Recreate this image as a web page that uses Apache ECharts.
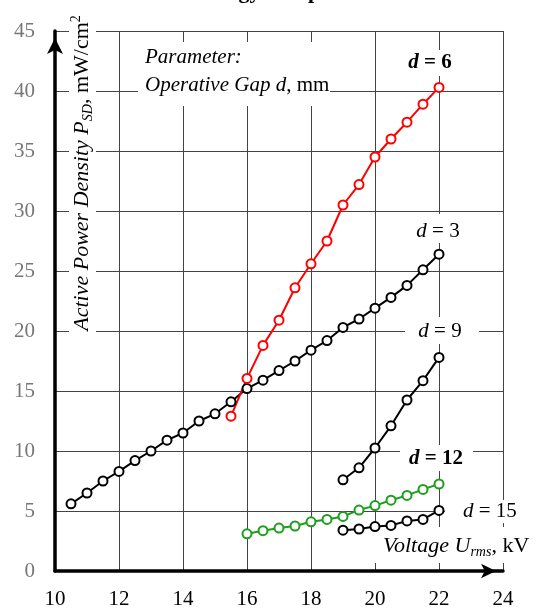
<!DOCTYPE html>
<html><head><meta charset="utf-8">
<script src="https://cdn.jsdelivr.net/npm/echarts@6/dist/echarts.min.js"></script>
<style>html,body{margin:0;padding:0;background:#fff}#c{width:544px;height:614px}</style>
</head><body><div id="c"></div>
<script>
// ---- data ----
const xTickMin = 10, xTickMax = 24, xTickStep = 2;
const yTickMin = 0, yTickMax = 45, yTickStep = 5;

const voltD3 = [10.5,11,11.5,12,12.5,13,13.5,14,14.5,15,15.5,16,16.5,17,17.5,18,18.5,19,19.5,20,20.5,21,21.5,22];
const powD3  = [5.6,6.5,7.5,8.3,9.2,10.0,10.9,11.5,12.5,13.1,14.1,15.2,15.9,16.7,17.5,18.4,19.2,20.3,21.0,21.9,22.8,23.8,25.1,26.4];

const voltD6 = [15.5,16,16.5,17,17.5,18,18.5,19,19.5,20,20.5,21,21.5,22];
const powD6  = [12.9,16.05,18.8,20.9,23.6,25.6,27.5,30.5,32.2,34.5,36.0,37.4,38.9,40.3];

const voltD9 = [19,19.5,20,20.5,21,21.5,22];
const powD9  = [7.6,8.6,10.25,12.1,14.25,15.86,17.8];

const voltD12 = [16,16.5,17,17.5,18,18.5,19,19.5,20,20.5,21,21.5,22];
const powD12  = [3.1,3.36,3.58,3.75,4.1,4.3,4.55,5.08,5.45,5.9,6.3,6.8,7.25];

const voltD15 = [19,19.5,20,20.5,21,21.5,22];
const powD15  = [3.4,3.5,3.7,3.8,4.17,4.3,5.05];

const pairs = (xs, ys) => xs.map((x, i) => [x, ys[i]]);

const SERIF = '"Liberation Serif", "DejaVu Serif", serif';
const chart = echarts.init(document.getElementById('c'), null, {renderer: 'canvas'});

function lineSeries(name, xs, ys, color) {
  return {
    name, type: 'line', z: 2,
    data: pairs(xs, ys),
    symbol: 'emptyCircle', symbolSize: 9,
    itemStyle: {color: color, borderWidth: 2},
    lineStyle: {color: color, width: 2},
    emphasis: {disabled: true},
    animation: false
  };
}

function bg(x, y, w, h) {
  return {type: 'rect', z: 1, silent: true, shape: {x, y, width: w, height: h}, style: {fill: '#fff'}};
}
function txt(x, y, text, rich, align, extra) {
  return Object.assign({type: 'text', z: 3, silent: true, x, y,
    style: {text, rich, align: align || 'center', verticalAlign: 'middle', fontFamily: SERIF}}, extra || {});
}

const base = {fontFamily: SERIF, fontSize: 21, color: '#000'};
const it = Object.assign({}, base, {fontStyle: 'italic'});
const bd = Object.assign({}, base, {fontWeight: 'bold'});
const bi = Object.assign({}, base, {fontWeight: 'bold', fontStyle: 'italic'});

chart.setOption({
  backgroundColor: '#fff',
  animation: false,
  grid: {left: 55, right: 41, top: 31, bottom: 43},
  xAxis: {
    type: 'value', min: xTickMin, max: xTickMax, interval: xTickStep,
    axisLine: {show: true, onZero: false, lineStyle: {color: '#000', width: 3.5},
      symbol: ['none', 'arrow'], symbolSize: [11, 15], symbolOffset: [0, -7]},
    axisTick: {show: false},
    axisLabel: {color: '#000', fontSize: 21, fontFamily: 'Liberation Serif', margin: 18},
    splitLine: {show: true, lineStyle: {color: '#444', width: 1}}
  },
  yAxis: {
    type: 'value', min: yTickMin, max: yTickMax, interval: yTickStep,
    axisLine: {show: true, onZero: false, lineStyle: {color: '#000', width: 3.5},
      symbol: ['none', 'arrow'], symbolSize: [12, 16], symbolOffset: [0, -7]},
    axisTick: {show: false},
    axisLabel: {color: '#777', fontSize: 21, fontFamily: 'Liberation Serif', margin: 20},
    splitLine: {show: true, lineStyle: {color: '#444', width: 1}}
  },
  series: [
    lineSeries('d = 3', voltD3, powD3, '#000'),
    lineSeries('d = 6', voltD6, powD6, '#ff0000'),
    lineSeries('d = 9', voltD9, powD9, '#000'),
    lineSeries('d = 12', voltD12, powD12, '#1e9e1e'),
    lineSeries('d = 15', voltD15, powD15, '#000')
  ],
  graphic: [
    // title (cut off at the top of the picture)
    {type: 'text', z: 3, silent: true, x: 192, y: 3,
      style: {text: 'Energy  Output', fontFamily: SERIF, fontSize: 22, fontWeight: 'bold', fill: '#000', align: 'left', verticalAlign: 'bottom'}},
    // white backgrounds that break grid lines
    bg(69, 6, 27, 338),
    bg(138, 42, 192, 64),
    bg(403, 50, 54, 26),
    bg(413, 214, 50, 29),
    bg(405, 317, 74, 27),
    bg(400, 445, 73, 26),
    bg(445, 500, 79, 23),
    bg(370, 527, 174, 36),
    // y axis name
    txt(82, 173, '{i|Active Power Density P}{sub|SD}{r|, mW/cm}{sup|2}', {
      i: Object.assign({}, it, {fontSize: 22, lineHeight: 26, verticalAlign: 'middle'}),
      sub: Object.assign({}, it, {fontSize: 14, lineHeight: 14, verticalAlign: 'bottom'}),
      r: Object.assign({}, base, {fontSize: 22, lineHeight: 26, verticalAlign: 'middle'}),
      sup: Object.assign({}, base, {fontSize: 14, lineHeight: 14, verticalAlign: 'top'})
    }, 'center', {rotation: Math.PI / 2}),
    // parameter box
    txt(145, 57, '{i|Parameter}{r|:}', {i: it, r: it}, 'left'),
    txt(145, 85, '{i|Operative Gap d}{r|, mm}', {i: it, r: base}, 'left'),
    // curve labels
    txt(430, 63, '{i|d}{r| = 6}', {i: bi, r: bd}),
    txt(438, 231, '{i|d}{r| = 3}', {i: it, r: base}),
    txt(440, 331, '{i|d}{r| = 9}', {i: it, r: base}),
    txt(436, 459, '{i|d}{r| = 12}', {i: bi, r: bd}),
    txt(463, 511, '{i|d}{r| = 15}', {i: it, r: base}, 'left'),
    // x axis name
    txt(383, 546, '{i|Voltage U}{sub|rms}{r|, kV}', {
      i: Object.assign({}, it, {fontSize: 22, lineHeight: 26, verticalAlign: 'middle'}),
      sub: Object.assign({}, it, {fontSize: 14, lineHeight: 14, verticalAlign: 'bottom'}),
      r: Object.assign({}, base, {fontSize: 22, lineHeight: 26, verticalAlign: 'middle'})
    }, 'left')
  ]
});
</script>
</body></html>
